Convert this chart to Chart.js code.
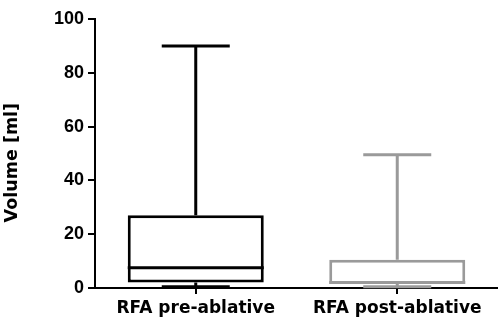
<!DOCTYPE html>
<html>
<head>
<meta charset="utf-8">
<script src="https://cdn.jsdelivr.net/npm/chart.js@4/dist/chart.umd.min.js"></script>
<style>
  html, body { margin: 0; padding: 0; background: #fff; }
  #wrap { width: 498px; height: 321px; }
</style>
</head>
<body>
<div id="wrap"><canvas id="boxChart" width="498" height="321"></canvas></div>
<script>
const groups = ['RFA pre-ablative', 'RFA post-ablative'];
const minVals = [0.5, 0.5];
const q1Vals = [2, 1.5];
const medianVals = [7.5, 2];
const q3Vals = [27, 10.5];
const maxVals = [90, 49.5];
const yTicks = [0, 20, 40, 60, 80, 100];
const boxColors = ['#000000', '#9a9a9a'];

const tickFont = '"Liberation Sans", Arial, sans-serif';
const labelFont = '"DejaVu Sans", sans-serif';

// whiskers, caps and median lines, placed with the chart's own scales
const whiskerPlugin = {
    id: 'whiskers',
    afterDatasetsDraw(chart) {
        const ctx = chart.ctx;
        const y = chart.scales.y;
        const meta = chart.getDatasetMeta(0);
        meta.data.forEach((bar, i) => {
            const half = bar.width / 2;
            const cap = bar.width / 4;
            const cx = bar.x;
            ctx.save();
            ctx.strokeStyle = boxColors[i];
            ctx.lineWidth = 3;
            ctx.beginPath();
            // upper whisker
            ctx.moveTo(cx, y.getPixelForValue(q3Vals[i]));
            ctx.lineTo(cx, y.getPixelForValue(maxVals[i]));
            ctx.moveTo(cx - cap, y.getPixelForValue(maxVals[i]));
            ctx.lineTo(cx + cap, y.getPixelForValue(maxVals[i]));
            // lower whisker
            ctx.moveTo(cx, y.getPixelForValue(q1Vals[i]));
            ctx.lineTo(cx, y.getPixelForValue(minVals[i]));
            ctx.moveTo(cx - cap, y.getPixelForValue(minVals[i]));
            ctx.lineTo(cx + cap, y.getPixelForValue(minVals[i]));
            // median
            ctx.moveTo(cx - half, y.getPixelForValue(medianVals[i]));
            ctx.lineTo(cx + half, y.getPixelForValue(medianVals[i]));
            ctx.stroke();
            ctx.restore();
        });
    }
};

new Chart(document.getElementById('boxChart'), {
    type: 'bar',
    data: {
        labels: groups,
        datasets: [{
            data: groups.map((g, i) => [q1Vals[i], q3Vals[i]]),
            backgroundColor: '#ffffff',
            borderColor: boxColors,
            borderWidth: 3,
            borderSkipped: false,
            barPercentage: 0.675,
            categoryPercentage: 1.0
        }]
    },
    options: {
        responsive: false,
        animation: false,
        layout: { padding: { top: 19, right: 0, left: 0, bottom: 0 } },
        plugins: {
            legend: { display: false },
            tooltip: { enabled: false }
        },
        scales: {
            x: {
                afterFit(axis) { axis.height = 33; },
                grid: { display: true, drawOnChartArea: false, offset: false, color: '#000', lineWidth: 2, tickLength: 6 },
                border: { color: '#000', width: 2 },
                ticks: { color: '#000', font: { family: labelFont, size: 17, weight: 'bold' }, padding: 4 }
            },
            y: {
                min: 0,
                max: 100,
                afterBuildTicks(axis) { axis.ticks = yTicks.map(v => ({ value: v })); },
                afterFit(axis) { axis.width = 95; },
                grid: { display: true, drawOnChartArea: false, color: '#000', lineWidth: 2, tickLength: 7 },
                border: { color: '#000', width: 2 },
                ticks: { color: '#000', font: { family: tickFont, size: 18, weight: 'bold' }, padding: 4 },
                title: { display: true, text: 'Volume [ml]   ', color: '#000', font: { family: labelFont, size: 17.5, weight: 'bold' }, padding: 2 }
            }
        }
    },
    plugins: [whiskerPlugin]
});
</script>
</body>
</html>
